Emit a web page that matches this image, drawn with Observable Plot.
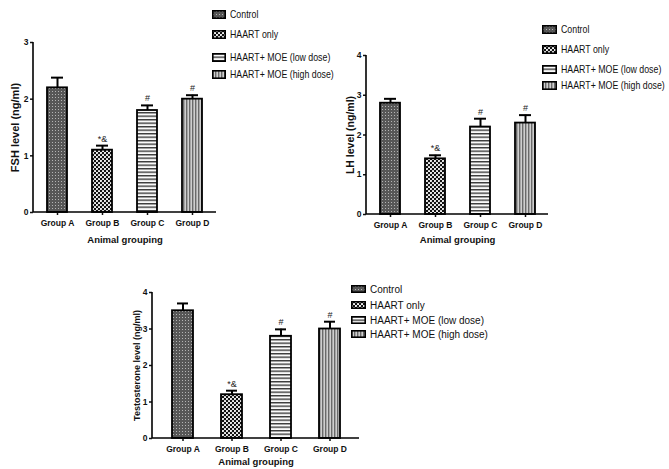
<!DOCTYPE html>
<html><head><meta charset="utf-8">
<script src="https://cdn.jsdelivr.net/npm/d3@7"></script>
<script src="https://cdn.jsdelivr.net/npm/@observablehq/plot@0.6"></script>
<style>
body{margin:0;background:#fff;}
#root{position:relative;width:669px;height:469px;overflow:hidden;background:#fff;}
.panel{position:absolute;}
.legend{position:absolute;color:#111;}
.legend .row{position:absolute;left:0;display:flex;align-items:center;white-space:nowrap;}
.legend svg{margin-right:4px;overflow:visible;flex:none;}
.legend span{display:inline-block;transform-origin:0 50%;}
</style>
</head><body>
<svg width="0" height="0" style="position:absolute">
 <defs>
  <pattern id="pCtrl" patternUnits="userSpaceOnUse" width="3" height="3">
   <rect width="3" height="3" fill="#575757"/>
   <rect x="1" y="1" width="1" height="1" fill="#b4b4b4"/>
  </pattern>
  <pattern id="pHaart" patternUnits="userSpaceOnUse" width="4" height="4">
   <rect width="4" height="4" fill="#111"/>
   <circle cx="1" cy="1" r="1.05" fill="#fff"/>
   <circle cx="3" cy="3" r="1.05" fill="#fff"/>
  </pattern>
  <pattern id="pLow" patternUnits="userSpaceOnUse" width="4" height="3.5">
   <rect width="4" height="3.5" fill="#fafafa"/>
   <rect y="0" width="4" height="1.4" fill="#3a3a3a"/>
  </pattern>
  <pattern id="pHigh" patternUnits="userSpaceOnUse" width="3" height="4">
   <rect width="3" height="4" fill="#cfcfcf"/>
   <rect x="0" width="1.4" height="4" fill="#6a6a6a"/>
  </pattern>
 </defs>
</svg>
<div id="root"></div>
<script>
// ---- data ----
const groups = ["Group A", "Group B", "Group C", "Group D"];
const treatments = ["Control", "HAART only", "HAART+ MOE (low dose)", "HAART+ MOE (high dose)"];
const notes = ["", "*&", "#", "#"];
const fshMean = [2.2, 1.1, 1.8, 2.0];
const fshErr = [0.18, 0.08, 0.09, 0.07];
const lhMean = [2.8, 1.4, 2.2, 2.3];
const lhErr = [0.11, 0.09, 0.21, 0.2];
const testoMean = [3.5, 1.2, 2.8, 3.0];
const testoErr = [0.2, 0.11, 0.19, 0.2];
const fshTicks = [0, 1, 2, 3];
const lhTicks = [0, 1, 2, 3, 4];
const testoTicks = [0, 1, 2, 3, 4];
const xTitle = "Animal grouping";
const fills = ["url(#pCtrl)", "url(#pHaart)", "url(#pLow)", "url(#pHigh)"];

const root = document.getElementById("root");

function panel(o) {
  const data = groups.map((g, i) => ({g, v: o.mean[i], hi: o.mean[i] + o.err[i], note: notes[i]}));
  const axisLines = (index, scales, values, dim) => {
    const g = d3.create("svg:g").attr("stroke", "#000").attr("stroke-width", 1.6);
    const y0 = dim.height - dim.marginBottom;
    g.append("line").attr("x1", dim.marginLeft).attr("x2", dim.marginLeft).attr("y1", dim.marginTop).attr("y2", y0);
    g.append("line").attr("x1", dim.marginLeft).attr("x2", dim.width - dim.marginRight).attr("y1", y0).attr("y2", y0);
    return g.node();
  };
  const p = Plot.plot({
    width: o.width, height: o.height,
    marginTop: o.mt, marginBottom: o.mb, marginLeft: o.ml, marginRight: o.mr,
    style: {fontFamily: "'Liberation Sans', Arial, sans-serif", fontSize: o.fs + "px", fontWeight: "bold", color: "#111", background: "transparent", overflow: "visible"},
    x: {domain: groups, paddingInner: o.pi, paddingOuter: o.po, label: null},
    y: {domain: [0, o.yMax], label: null},
    marks: [
      ...data.map((d, i) => Plot.barY([d], {x: "g", y: "v", fill: fills[i], stroke: "#000", strokeWidth: 1.8})),
      Plot.ruleX(data, {x: "g", y1: "v", y2: "hi", stroke: "#000", strokeWidth: 2}),
      Plot.tickY(data, {x: "g", y: "hi", stroke: "#000", strokeWidth: 2, insetLeft: o.cap, insetRight: o.cap}),
      Plot.text(data, {x: "g", y: "hi", text: "note", dy: -7, fontSize: o.nfs, fontWeight: "normal", fill: "#222"}),
      Plot.axisY({ticks: o.ticks, tickFormat: d3.format("d"), tickSize: 3, tickPadding: 2, strokeWidth: 1.5, label: null}),
      Plot.axisX({tickSize: 3, tickPadding: o.xtp, strokeWidth: 1.5, label: null}),
      Plot.text([o.yLabel], {text: d => d, frameAnchor: "left", textAnchor: "middle", lineAnchor: "middle", rotate: -90, dx: -o.ylo, fontSize: o.yfs, fontWeight: "bold", fill: "#111"}),
      Plot.text([xTitle], {text: d => d, frameAnchor: "bottom", textAnchor: "middle", lineAnchor: "middle", dy: o.xlo, fontSize: o.xfs, fontWeight: "bold", fill: "#111"}),
      axisLines
    ]
  });
  const div = document.createElement("div");
  div.className = "panel";
  div.style.left = o.left + "px";
  div.style.top = o.top + "px";
  div.appendChild(p);
  root.appendChild(div);
}

function legend(o) {
  const div = document.createElement("div");
  div.className = "legend";
  div.style.left = o.left + "px";
  div.style.top = "0px";
  div.style.fontFamily = "'Liberation Sans', Arial, sans-serif";
  div.style.fontSize = o.fs + "px";
  treatments.forEach((t, i) => {
    const row = document.createElement("div");
    row.className = "row";
    row.style.top = (o.rows[i] - 7) + "px";
    row.style.height = "14px";
    row.innerHTML = `<svg width="${o.sw}" height="${o.sh}"><rect x="0.8" y="0.8" width="${o.sw - 1.6}" height="${o.sh - 1.6}" fill="${fills[i]}" stroke="#000" stroke-width="1.6"/></svg><span style="transform:scaleX(${o.sx})">${t}</span>`;
    div.appendChild(row);
  });
  root.appendChild(div);
}

panel({left: 0, top: 0, width: 220, height: 250, mt: 42, mb: 38, ml: 33, mr: 4, pi: 0.56, po: 0.31,
  mean: fshMean, err: fshErr, yMax: 3, ticks: fshTicks, yLabel: "FSH level (ng/ml)", cap: 4,
  fs: 8.5, nfs: 9, yfs: 11, xfs: 9.5, ylo: 18, xlo: 27, xtp: 4});
panel({left: 330, top: 0, width: 222, height: 250, mt: 55, mb: 36, ml: 36, mr: 4, pi: 0.56, po: 0.27,
  mean: lhMean, err: lhErr, yMax: 4, ticks: lhTicks, yLabel: "LH level (ng/ml)", cap: 4,
  fs: 8.5, nfs: 9, yfs: 10.5, xfs: 9.5, ylo: 16, xlo: 25, xtp: 4});
panel({left: 118, top: 262, width: 244, height: 207, mt: 30, mb: 31, ml: 34, mr: 3, pi: 0.58, po: 0.37,
  mean: testoMean, err: testoErr, yMax: 4, ticks: testoTicks, yLabel: "Testosterone level (ng/ml)", cap: 5,
  fs: 8.5, nfs: 9, yfs: 9, xfs: 9.5, ylo: 15, xlo: 23, xtp: 4});

legend({left: 212, rows: [14, 34, 57, 74], sw: 14, sh: 9, fs: 11, sx: 0.8});
legend({left: 542, rows: [29, 49, 69, 85], sw: 15, sh: 9, fs: 11, sx: 0.8});
legend({left: 351, rows: [289, 305, 320, 334], sw: 15, sh: 8, fs: 10, sx: 1});
</script>
</body></html>
